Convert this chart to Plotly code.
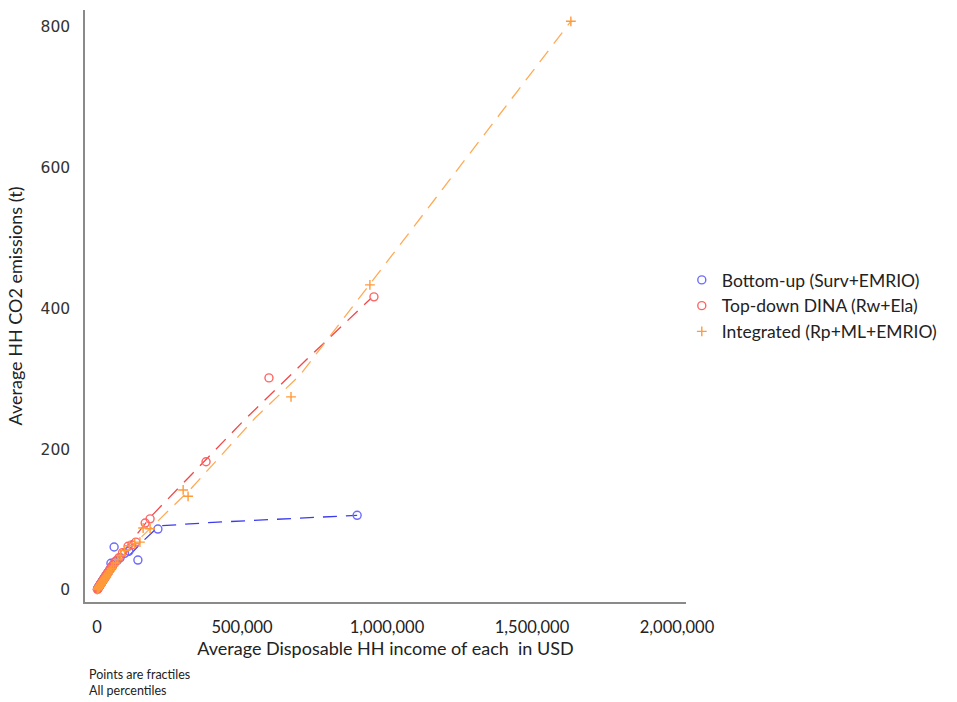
import plotly.graph_objects as go

# Household income (USD) and CO2 emissions (t) per percentile, three estimation methods
bottom_up_income = [2000, 4000, 5500, 7000, 8500, 10000, 11500, 13000, 14500, 16000,
                    17500, 19000, 20500, 22000, 23500, 25000, 27000, 29000, 31000, 33000,
                    35000, 37500, 40000, 43000, 46000, 48000, 50000, 54000, 59000, 62000,
                    70000, 80000, 95000, 110000, 141000, 210000, 897000]
bottom_up_co2 = [1.8, 3.0, 4.2, 5.0, 6.1, 7.0, 8.0, 8.9, 9.8, 10.9,
                 11.8, 12.7, 13.8, 14.6, 15.6, 16.5, 17.9, 19.0, 20.4, 21.6,
                 23.0, 24.5, 26.0, 28.0, 30.0, 38.0, 32.5, 35.0, 61.0, 40.0,
                 42.0, 46.0, 52.0, 55.0, 42.5, 86.5, 106.0]

top_down_income = [1500, 3000, 4500, 6000, 7500, 9000, 10500, 12000, 13500, 15000,
                   17000, 19000, 21000, 23000, 25000, 27500, 30000, 33000, 36000, 40000,
                   44000, 48000, 53000, 59000, 66000, 76000, 88000, 107000, 120000, 134000,
                   166000, 183000, 376000, 593000, 955000]
top_down_co2 = [1.0, 2.0, 3.0, 4.0, 5.0, 6.0, 7.0, 8.0, 9.0, 10.0,
                11.3, 12.6, 14.0, 15.3, 16.6, 18.2, 19.8, 21.8, 23.8, 26.3,
                28.8, 31.2, 34.0, 37.8, 41.5, 46.0, 53.0, 62.0, 64.0, 68.0,
                95.0, 101.0, 182.0, 301.0, 416.0]

integrated_income = [1000, 2500, 4000, 5500, 7000, 8500, 10000, 11500, 13000, 14500,
                     16000, 18000, 20000, 22000, 24000, 26500, 29000, 32000, 35000, 38500,
                     42000, 46000, 51000, 57000, 64000, 72000, 82000, 95000, 112000, 130000,
                     148000, 159000, 183000, 297000, 314000, 669000, 941000, 1634000]
integrated_co2 = [0.6, 1.5, 2.4, 3.3, 4.2, 5.1, 6.0, 6.9, 7.8, 8.7,
                  9.6, 10.8, 12.0, 13.2, 14.4, 15.9, 17.4, 19.2, 21.0, 23.1,
                  25.2, 27.6, 30.6, 34.2, 38.4, 43.2, 49.0, 56.0, 63.0, 66.0,
                  68.0, 88.0, 87.0, 142.0, 133.0, 274.0, 433.0, 807.0]

# Smoothed trend lines for each method
bottom_up_fit_x = [2000, 40000, 80000, 114000, 160000, 215000, 400000, 600000, 897000]
bottom_up_fit_y = [1.5, 26, 42, 50, 70, 91, 96, 100, 106]
top_down_fit_x = [1500, 60000, 120000, 183000, 500000, 720000, 945000]
top_down_fit_y = [1.0, 38, 70, 103, 238, 326, 414]
integrated_fit_x = [1000, 60000, 140000, 320000, 545000, 700000, 941000, 1634000]
integrated_fit_y = [0.6, 35, 70, 142, 244, 305, 434, 807]

series_names = ["Bottom-up (Surv+EMRIO)", "Top-down DINA (Rw+Ela)", "Integrated (Rp+ML+EMRIO)"]
x_tick_values = [0, 500000, 1000000, 1500000, 2000000]
x_tick_labels = ["0", "500,000", "1,000,000", "1,500,000", "2,000,000"]
y_tick_values = [0, 200, 400, 600, 800]

BLUE_LINE, BLUE_MARK = "#3b3bf0", "#6b6bff"
RED_LINE, RED_MARK = "#f04848", "#ff6464"
ORANGE_LINE, ORANGE_MARK = "#ffaa55", "#ff9a3a"

fig = go.Figure()

# dashed trend lines (no legend entries)
for fx, fy, col in [(bottom_up_fit_x, bottom_up_fit_y, BLUE_LINE),
                    (top_down_fit_x, top_down_fit_y, RED_LINE),
                    (integrated_fit_x, integrated_fit_y, ORANGE_LINE)]:
    fig.add_trace(go.Scatter(x=fx, y=fy, mode="lines", showlegend=False, hoverinfo="skip",
                             line=dict(color=col, width=1.3, dash="14px,9px")))

fig.add_trace(go.Scatter(x=bottom_up_income, y=bottom_up_co2, mode="markers", name=series_names[0],
                         marker=dict(symbol="circle-open", size=8, color=BLUE_MARK,
                                     line=dict(width=1.4, color=BLUE_MARK))))
fig.add_trace(go.Scatter(x=top_down_income, y=top_down_co2, mode="markers", name=series_names[1],
                         marker=dict(symbol="circle-open", size=8, color=RED_MARK,
                                     line=dict(width=1.4, color=RED_MARK))))
fig.add_trace(go.Scatter(x=integrated_income, y=integrated_co2, mode="markers", name=series_names[2],
                         marker=dict(symbol="cross-thin-open", size=7, color=ORANGE_MARK,
                                     line=dict(width=1.4, color=ORANGE_MARK))))

fig.update_layout(
    width=957, height=702,
    margin=dict(l=85, r=271, t=10, b=100),
    paper_bgcolor="white", plot_bgcolor="white",
    font=dict(family="Lato, DejaVu Sans, sans-serif", color="#222222"),
    showlegend=True,
    legend=dict(x=0.993, y=0.5, xanchor="left", yanchor="middle",
                font=dict(size=17.5, family="Lato, DejaVu Sans, sans-serif", color="#222222"),
                itemsizing="trace", tracegroupgap=0, bgcolor="rgba(0,0,0,0)"),
    xaxis=dict(range=[-41400, 2031000], tickvals=x_tick_values, ticktext=x_tick_labels,
               showgrid=False, zeroline=False, showline=True, linecolor="#8a8a8a", linewidth=1.5,
               ticks="", ticklabelstandoff=9,
               tickfont=dict(size=16.5, family="Liberation Sans Narrow, Lato, sans-serif", color="#222222"),
               title=dict(text="Average Disposable HH income of each  in USD", standoff=0,
                          font=dict(size=18, family="Lato, DejaVu Sans, sans-serif", color="#222222"))),
    yaxis=dict(range=[-17, 823], tickvals=y_tick_values,
               showgrid=False, zeroline=False, showline=True, linecolor="#8a8a8a", linewidth=1.5,
               ticks="", ticklabelstandoff=10,
               tickfont=dict(size=15.5, family="DejaVu Sans, sans-serif", color="#333333"),
               title=dict(text="Average HH CO2 emissions (t)", standoff=13,
                          font=dict(size=18, family="Lato, DejaVu Sans, sans-serif", color="#222222"))),
    annotations=[
        dict(text="Points are fractiles<br>All percentiles", xref="paper", yref="paper",
             x=0.004, y=-0.107, xanchor="left", yanchor="top", align="left", showarrow=False,
             font=dict(size=12.5, family="Lato, DejaVu Sans, sans-serif", color="#222222")),
    ],
)

fig.write_html("out.html")
